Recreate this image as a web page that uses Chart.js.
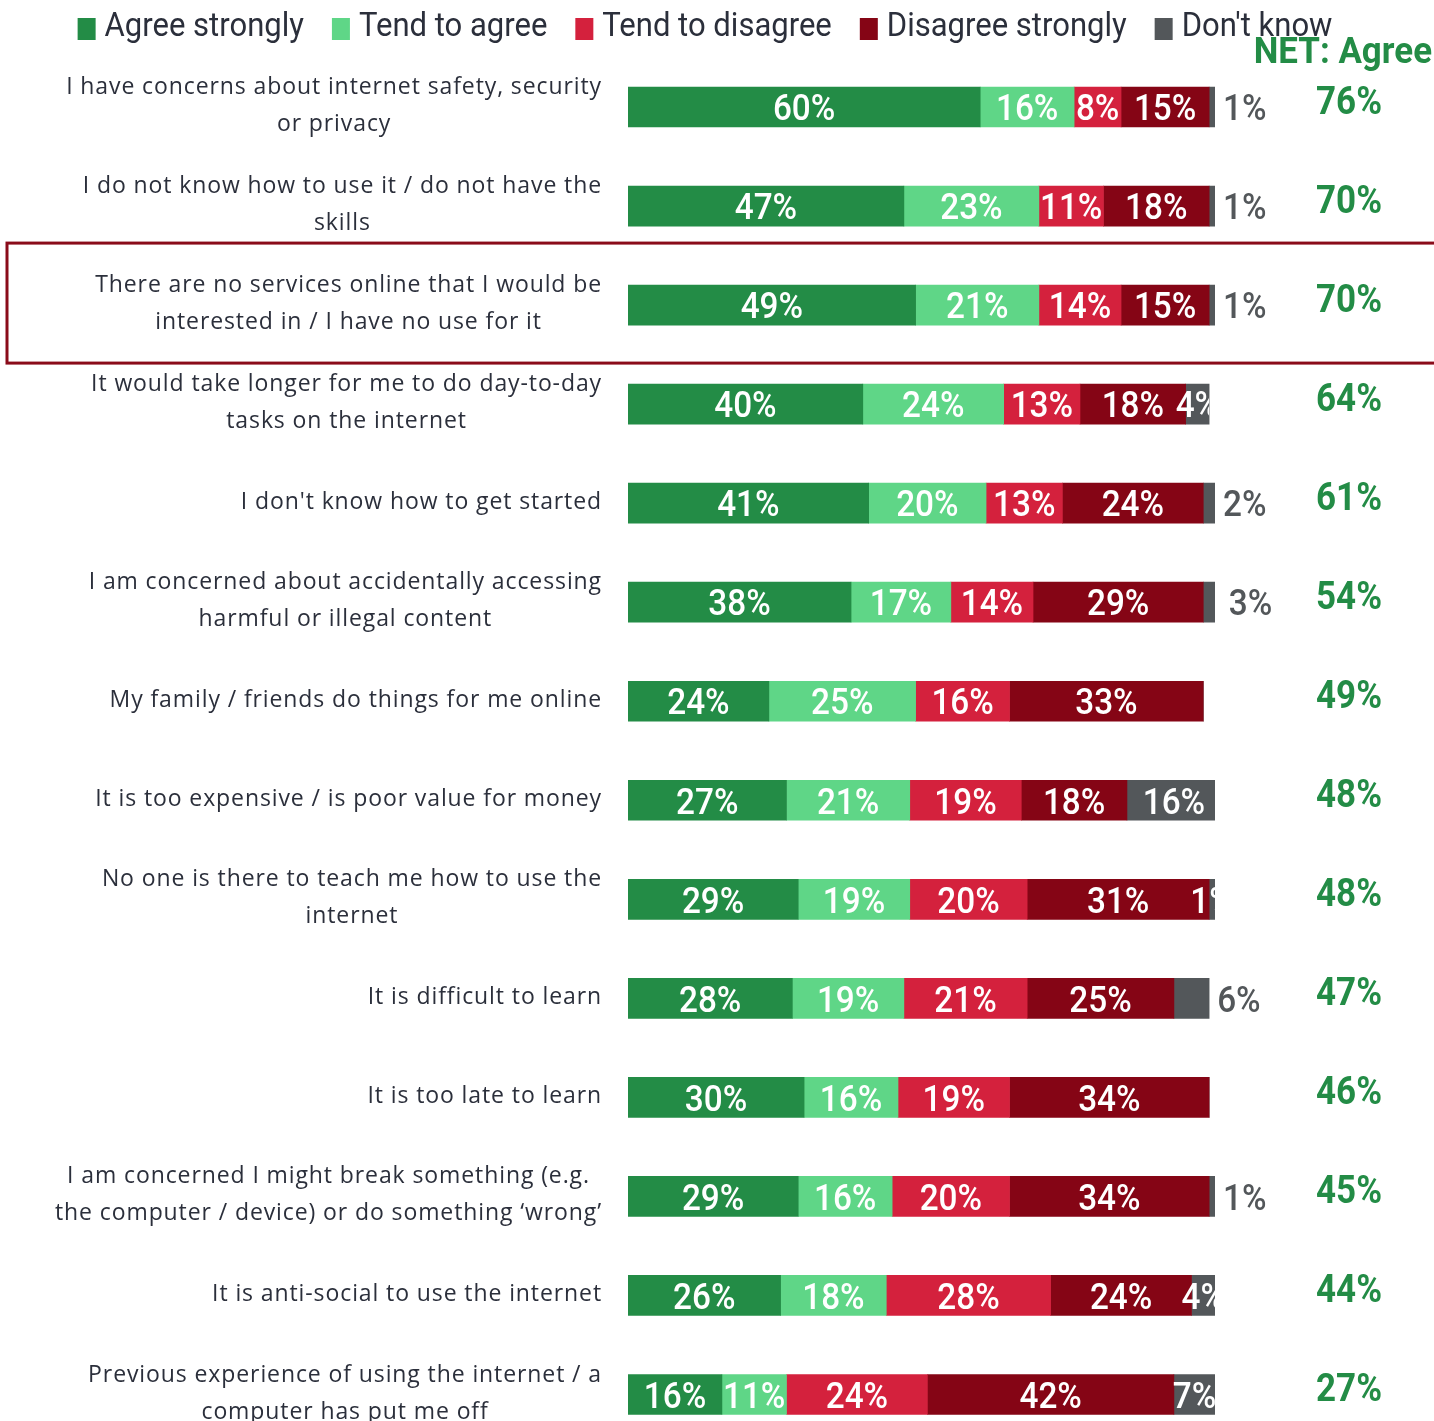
<!DOCTYPE html>
<html>
<head>
<meta charset="utf-8">
<title>Barriers to using the internet</title>
<script src="https://cdn.jsdelivr.net/npm/chart.js@4.4.0/dist/chart.umd.min.js"></script>
<style>
    body { margin: 0; background: #fff; overflow: hidden; }
    #wrap { width: 1434px; height: 1460px; }
</style>
</head>
<body>
<div id="wrap"><canvas id="myChart" width="1434" height="1460"></canvas></div>
<script>
let categories = [
    ['I have concerns about internet safety, security', 'or privacy'],
    ['I do not know how to use it / do not have the', 'skills'],
    ['There are no services online that I would be', 'interested in / I have no use for it'],
    ['It would take longer for me to do day-to-day', 'tasks on the internet'],
    ['I don\'t know how to get started'],
    ['I am concerned about accidentally accessing', 'harmful or illegal content'],
    ['My family / friends do things for me online'],
    ['It is too expensive / is poor value for money'],
    ['No one is there to teach me how to use the', 'internet'],
    ['It is difficult to learn'],
    ['It is too late to learn'],
    ['I am concerned I might break something (e.g.', 'the computer / device) or do something \u2018wrong\u2019'],
    ['It is anti-social to use the internet'],
    ['Previous experience of using the internet / a', 'computer has put me off']
];
let seriesNames = ['Agree strongly', 'Tend to agree', 'Tend to disagree', 'Disagree strongly', 'Don\'t know'];
let agreeStrongly = [60, 47, 49, 40, 41, 38, 24, 27, 29, 28, 30, 29, 26, 16];
let tendToAgree = [16, 23, 21, 24, 20, 17, 25, 21, 19, 19, 16, 16, 18, 11];
let tendToDisagree = [8, 11, 14, 13, 13, 14, 16, 19, 20, 21, 19, 20, 28, 24];
let disagreeStrongly = [15, 18, 15, 18, 24, 29, 33, 18, 31, 25, 34, 34, 24, 42];
let dontKnow = [1, 1, 1, 4, 2, 3, 0, 16, 1, 6, 0, 1, 4, 7];
let netAgree = [76, 70, 70, 64, 61, 54, 49, 48, 48, 47, 46, 45, 44, 27];
let highlightRow = 2;

// rows where the "don't know" label sits to the right of the bar
let dkOutside = [0, 1, 2, 4, 5, 9, 11];

let colors = ['#238c46', '#5fd687', '#d4213d', '#850515', '#53575a'];
let textColor = '#2b2f3b';
let labelFont = "23px 'Open Sans', sans-serif";
let numFont = "Roboto, 'Liberation Sans', sans-serif";


// -------- SCHMALE SCHRIFT (gestaucht) -------- //

function narrowText(ctx, text, x, y, align, squeeze) {
    ctx.save();
    ctx.translate(x, y);
    ctx.scale(squeeze, 1);
    ctx.textAlign = align;
    ctx.fillText(text, 0, 0);
    ctx.restore();
}

function narrowWidth(ctx, text, squeeze) {
    return ctx.measureText(text).width * squeeze;
}


// -------- LEGENDE -------- //

function drawLegend(chart) {
    let ctx = chart.ctx;
    let sq = 0.94;
    ctx.save();
    ctx.font = '33px ' + numFont;
    ctx.textBaseline = 'middle';
    let widths = seriesNames.map(n => narrowWidth(ctx, n, sq));
    let total = 0;
    for (let i = 0; i < widths.length; i++) {
        total += 18 + 9 + widths[i] + (i < widths.length - 1 ? 28 : 0);
    }
    let x = 705 - total / 2;
    for (let i = 0; i < seriesNames.length; i++) {
        ctx.fillStyle = colors[i];
        ctx.fillRect(x, 18, 18, 22);
        ctx.fillStyle = textColor;
        narrowText(ctx, seriesNames[i], x + 27, 28, 'left', sq);
        x += 18 + 9 + widths[i] + 28;
    }
    ctx.fillStyle = '#238c46';
    ctx.font = 'bold 36px ' + numFont;
    narrowText(ctx, 'NET: Agree', 1432, 54, 'right', 0.97);
    ctx.restore();
}


// -------- KATEGORIEN -------- //

function drawCategoryLabels(chart) {
    let ctx = chart.ctx;
    let yScale = chart.scales.y;
    ctx.save();
    ctx.font = labelFont;
    ctx.letterSpacing = '0.9px';
    ctx.fillStyle = textColor;
    ctx.textBaseline = 'middle';
    ctx.textAlign = 'center';
    for (let i = 0; i < categories.length; i++) {
        let lines = categories[i];
        let blockWidth = Math.max(...lines.map(l => ctx.measureText(l).width));
        let cx = 602 - blockWidth / 2;
        let cy = yScale.getPixelForValue(i) - 1;
        let lineHeight = 37;
        let top = cy - (lines.length - 1) * lineHeight / 2;
        for (let k = 0; k < lines.length; k++) {
            ctx.fillText(lines[k], cx, top + k * lineHeight);
        }
    }
    ctx.restore();
}


// -------- WERTE IN DEN BALKEN -------- //

function drawBarLabels(chart) {
    let ctx = chart.ctx;
    let area = chart.chartArea;
    let dkMeta = chart.getDatasetMeta(4);
    let sq = 0.9;
    ctx.save();
    ctx.font = '500 37px ' + numFont;
    ctx.textBaseline = 'middle';
    for (let d = 0; d < chart.data.datasets.length; d++) {
        let meta = chart.getDatasetMeta(d);
        let values = chart.data.datasets[d].data;
        for (let j = 0; j < values.length; j++) {
            if (!values[j]) continue;
            let bar = meta.data[j];
            let left = Math.min(bar.x, bar.base);
            let right = Math.max(bar.x, bar.base);
            let rowEnd = Math.max(dkMeta.data[j].x, dkMeta.data[j].base);
            let text = values[j] + '%';
            if (d == 4 && dkOutside.includes(j)) {
                ctx.fillStyle = colors[4];
                narrowText(ctx, text, rowEnd + 8, bar.y + 4, 'left', sq);
                continue;
            }
            ctx.save();
            ctx.beginPath();
            ctx.rect(area.left, bar.y - 30, rowEnd - area.left, 60);
            ctx.clip();
            ctx.fillStyle = '#fff';
            narrowText(ctx, text, (left + right) / 2, bar.y + 4, 'center', sq);
            ctx.restore();
        }
    }
    ctx.restore();
}


// -------- NET AGREE -------- //

function drawNetAgree(chart) {
    let ctx = chart.ctx;
    let yScale = chart.scales.y;
    ctx.save();
    ctx.font = 'bold 38px ' + numFont;
    ctx.fillStyle = '#238c46';
    ctx.textBaseline = 'middle';
    for (let i = 0; i < netAgree.length; i++) {
        narrowText(ctx, netAgree[i] + '%', 1349, yScale.getPixelForValue(i) - 3, 'center', 0.92);
    }
    ctx.restore();
}


// -------- RAHMEN -------- //

function drawHighlight(chart) {
    let ctx = chart.ctx;
    let cy = chart.scales.y.getPixelForValue(highlightRow);
    ctx.save();
    ctx.strokeStyle = '#8a0b1a';
    ctx.lineWidth = 3;
    ctx.strokeRect(7, cy - 62, 1440, 120);
    ctx.restore();
}


let chartDecor = {
    id: 'chartDecor',
    afterDatasetsDraw(chart) {
        drawLegend(chart);
        drawCategoryLabels(chart);
        drawBarLabels(chart);
        drawNetAgree(chart);
        drawHighlight(chart);
    }
};


// -------- CHART -------- //

function showChart() {
    let ctx = document.getElementById('myChart');
    let allSeries = [agreeStrongly, tendToAgree, tendToDisagree, disagreeStrongly, dontKnow];

    new Chart(ctx, {
        type: 'bar',
        data: {
            labels: categories,
            datasets: allSeries.map((s, i) => ({
                label: seriesNames[i],
                data: s,
                backgroundColor: colors[i],
                borderWidth: 0,
                barThickness: 40
            }))
        },
        options: {
            indexAxis: 'y',
            responsive: false,
            animation: false,
            layout: {
                padding: { top: 57.5, right: 219, bottom: 16, left: 0 }
            },
            scales: {
                x: {
                    stacked: true,
                    min: 0,
                    max: 100,
                    display: false
                },
                y: {
                    stacked: true,
                    ticks: { display: false },
                    grid: { display: false },
                    border: { display: false },
                    afterFit(scale) {
                        scale.width = 628;
                    }
                }
            },
            plugins: {
                legend: { display: false },
                tooltip: { enabled: false }
            }
        },
        plugins: [chartDecor]
    });
}

showChart();
</script>
</body>
</html>
